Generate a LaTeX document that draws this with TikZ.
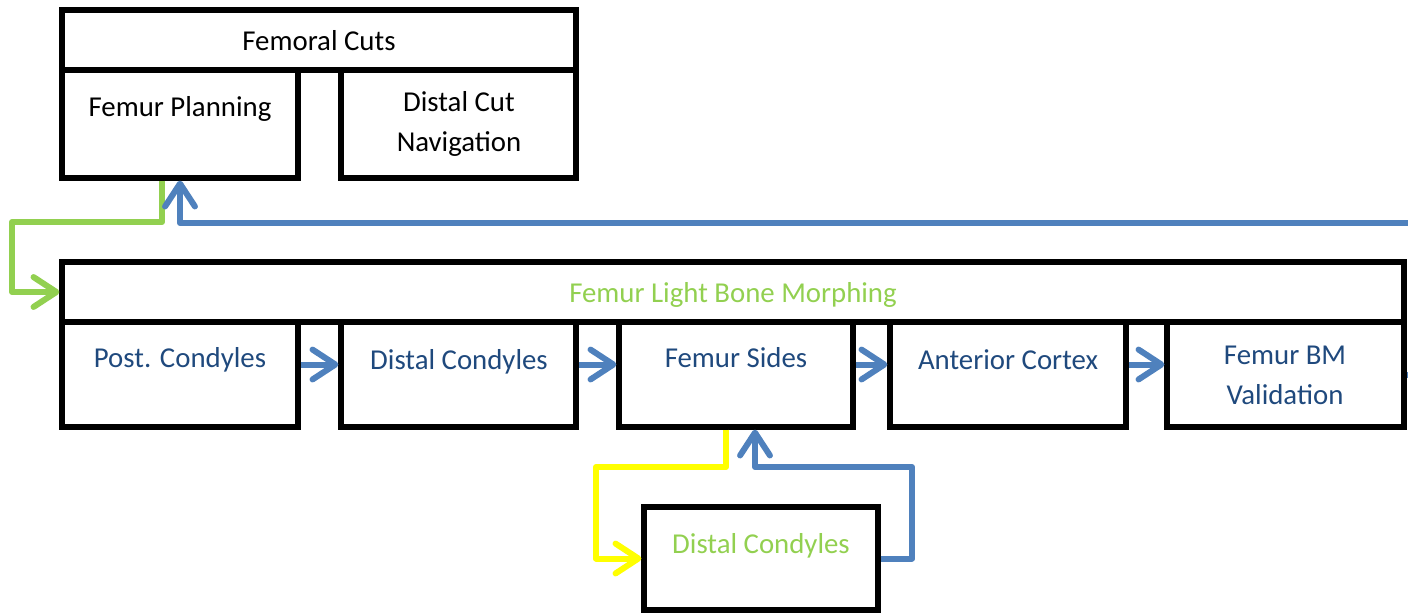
\documentclass[tikz,border=0pt]{standalone}
\usepackage{fontspec}
\setmainfont{Carlito}
\usetikzlibrary{arrows.meta,fit}
\definecolor{txtblue}{RGB}{31,73,125}
\definecolor{lnblue}{RGB}{79,129,189}
\definecolor{lngreen}{RGB}{146,208,80}
\definecolor{lnyellow}{RGB}{255,255,0}
\begin{document}
\begin{tikzpicture}[x=0.02cm,y=-0.02cm,
  box/.style={draw=black, line width=0.105cm, inner sep=0pt},
  lbl/.style={font=\fontsize{16.4}{22.7}\selectfont, anchor=base, inner sep=0pt},
  lbl2/.style={font=\fontsize{16.4}{22.7}\selectfont, anchor=center, inner sep=0pt, align=center},
  conn/.style={line width=0.12cm, line join=round, -{Straight Barb[length=13pt,width=17pt,round]}}]
\path[use as bounding box] (0,0) rectangle (1408,613);
\clip (0,0) rectangle (1408,613);
% top group
\node[box, fit={(62,10) (576,70)}] (cuts) {};
\node[box, fit={(62,70) (298,178)}] (fplan) {};
\node[box, fit={(341,70) (576,178)}] (dcut) {};
% middle group
\node[box, fit={(62,262) (1404,322)}] (flbm) {};
\node[box, fit={(62,322) (298,427)}] (post) {};
\node[box, fit={(341,322) (576,427)}] (dcond) {};
\node[box, fit={(619,322) (853,427)}] (fsides) {};
\node[box, fit={(890,322) (1126,427)}] (antc) {};
\node[box, fit={(1167,322) (1404,427)}] (val) {};
% bottom
\node[box, fit={(644,507) (878,610)}] (dc2) {};
% labels
\node[lbl] (tcuts) at (319,50) {Femoral Cuts};
\node[lbl] (tfplan) at (180,116) {Femur Planning};
\node[lbl2] (tdcut) at (459,124) {Distal Cut\\Navigation};
\node[lbl, text=lngreen] (tflbm) at (733,302) {Femur Light Bone Morphing};
\node[lbl, text=txtblue] (tpost) at (180,367) {Post. Condyles};
\node[lbl, text=txtblue] (tdcond) at (459,369) {Distal Condyles};
\node[lbl, text=txtblue] (tfsides) at (736,367) {Femur Sides};
\node[lbl, text=txtblue] (tantc) at (1008,369) {Anterior Cortex};
\node[lbl2, text=txtblue] (tval) at (1285,375) {Femur BM\\Validation};
\node[lbl, text=lngreen] (tdc2) at (761,553) {Distal Condyles};
% connectors
\coordinate (gturn) at (12,222);
\draw[conn, lngreen] ([xshift=-0.36cm]fplan.south) |- (gturn) -- (gturn |- flbm.west) -- (flbm.west);
\coordinate (bright) at (1440,223);
\draw[conn, lnblue] (val.east) -| (bright) -- (fplan.south |- bright) -- (fplan.south);
\draw[conn, lnblue] ([yshift=0.2cm]post.east) -- ([yshift=0.2cm]dcond.west);
\draw[conn, lnblue] ([yshift=0.2cm]dcond.east) -- ([yshift=0.2cm]fsides.west);
\draw[conn, lnblue] ([yshift=0.2cm]fsides.east) -- ([yshift=0.2cm]antc.west);
\draw[conn, lnblue] ([yshift=0.2cm]antc.east) -- ([yshift=0.2cm]val.west);
\coordinate (yturn) at (596,467);
\draw[conn, lnyellow] ([xshift=-0.2cm]fsides.south) |- (yturn) -- (yturn |- dc2.west) -- (dc2.west);
\coordinate (bturn) at (912,467);
\draw[conn, lnblue] (dc2.east) -| (bturn) -| ([xshift=0.38cm]fsides.south);
\end{tikzpicture}
\end{document}
